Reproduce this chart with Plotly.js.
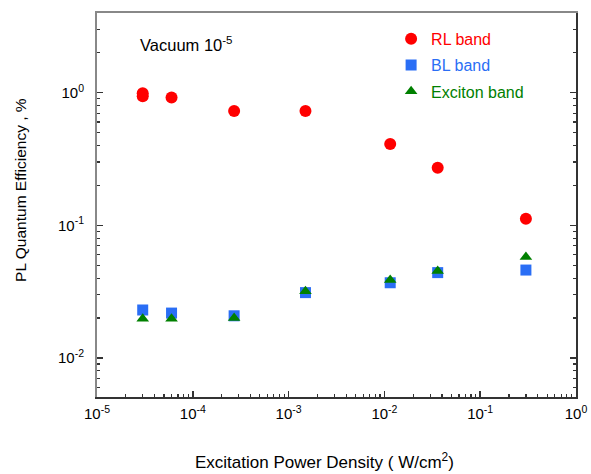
<!DOCTYPE html>
<html><head><meta charset="utf-8">
<script src="https://cdn.plot.ly/plotly-3.0.1.min.js"></script>
<style>html,body{margin:0;padding:0;background:#fff}</style>
</head><body>
<div id="chart" style="width:591px;height:474px"></div>
<script>
const powerDensity = [3e-5, 3e-5, 6e-5, 2.7e-4, 1.5e-3, 1.15e-2, 3.6e-2, 0.3];
const rlBand = [0.99, 0.94, 0.917, 0.728, 0.728, 0.41, 0.272, 0.112];
const xBL = [3e-5, 6e-5, 2.7e-4, 1.5e-3, 1.15e-2, 3.6e-2, 0.3];
const blBand = [0.023, 0.0218, 0.0208, 0.0311, 0.0369, 0.044, 0.046];
const exBand = [0.0198, 0.0198, 0.020, 0.0318, 0.0387, 0.0452, 0.0577];
const seriesNames = ['RL band', 'BL band', 'Exciton band'];
const colors = ['#ff0000', '#2a6ef5', '#008000'];
const xMajorTicks = [1e-5, 1e-4, 1e-3, 1e-2, 1e-1, 1];
const xTickLabels = ['10<sup>-5</sup>', '10<sup>-4</sup>', '10<sup>-3</sup>', '10<sup>-2</sup>', '10<sup>-1</sup>', '10<sup>0</sup>'];
const yMajorTicks = [1e-2, 1e-1, 1];
const yTickLabels = ['10<sup>-2</sup>', '10<sup>-1</sup>', '10<sup>0</sup>'];

function minorTicks(lo, hi) {
  const out = [];
  for (let e = lo; e <= hi; e++) for (let m = 2; m <= 9; m++) out.push(m * Math.pow(10, e));
  return out;
}
const xMinor = minorTicks(-5, -1);
const yMinor = minorTicks(-3, 0).filter(v => v > 0.0051 && v < 3.99);

const font = 'Arial, "Liberation Sans", sans-serif';
const dark = '#333';
const gray = '#888';
const traces = [
  {x: powerDensity, y: rlBand, mode: 'markers', type: 'scatter', legendgroup: 'a',
   name: '<span style="fill:' + colors[0] + '">' + seriesNames[0] + '</span>',
   marker: {symbol: 'circle', size: 12, color: colors[0]}},
  {x: xBL, y: blBand, mode: 'markers', type: 'scatter', legendgroup: 'b',
   name: '<span style="fill:' + colors[1] + '">' + seriesNames[1] + '</span>',
   marker: {symbol: 'square', size: 11, color: colors[1]}},
  {x: xBL, y: exBand, mode: 'markers', type: 'scatter', legendgroup: 'c',
   name: '<span style="fill:' + colors[2] + '">' + seriesNames[2] + '</span>',
   marker: {symbol: 'triangle-up', size: 11, color: colors[2]}},
  {x: [1e-3], y: [1], xaxis: 'x2', yaxis: 'y2', mode: 'markers', showlegend: false, marker: {opacity: 0}, hoverinfo: 'skip'},
  {x: [1e-3], y: [1], xaxis: 'x3', yaxis: 'y3', mode: 'markers', showlegend: false, marker: {opacity: 0}, hoverinfo: 'skip'},
  {x: [1e-3], y: [1], xaxis: 'x3', yaxis: 'y4', mode: 'markers', showlegend: false, marker: {opacity: 0}, hoverinfo: 'skip'}
];
const xr = [-5, 0];
const yr = [-2.294, 0.60];
const base = {type: 'log', showgrid: false, zeroline: false};
const tickFont = {family: font, size: 15, color: '#000'};
const layout = {
  width: 591, height: 474,
  margin: {l: 97, r: 15, t: 13, b: 77},
  paper_bgcolor: '#fff', plot_bgcolor: '#fff',
  font: {family: font, size: 15, color: '#000'},
  showlegend: true,
  legend: {x: 0.614, y: 0.977, xanchor: 'left', yanchor: 'top', bgcolor: 'rgba(0,0,0,0)',
           font: {family: font, size: 16}, tracegroupgap: 2.5, traceorder: 'grouped'},
  xaxis: Object.assign({}, base, {range: xr, tickmode: 'array', tickvals: xMajorTicks, ticktext: xTickLabels,
          showline: true, linecolor: dark, linewidth: 2, ticks: 'inside', ticklen: 6, tickwidth: 1.5, tickcolor: dark,
          tickfont: tickFont, ticklabelstandoff: 2}),
  yaxis: Object.assign({}, base, {range: yr, tickmode: 'array', tickvals: yMajorTicks, ticktext: yTickLabels,
          showline: true, linecolor: gray, linewidth: 2, ticks: 'inside', ticklen: 6, tickwidth: 1.5, tickcolor: dark,
          tickfont: tickFont, ticklabelstandoff: 8}),
  xaxis2: Object.assign({}, base, {range: xr, overlaying: 'x', side: 'top', anchor: 'y2', showline: true, linecolor: gray, linewidth: 2,
           showticklabels: false, ticks: ''}),
  yaxis2: Object.assign({}, base, {range: yr, overlaying: 'y', side: 'right', anchor: 'x2', tickmode: 'array', tickvals: yMajorTicks,
           showline: true, linecolor: dark, linewidth: 2, showticklabels: false, ticks: 'inside', ticklen: 6, tickwidth: 1.5, tickcolor: dark}),
  xaxis3: Object.assign({}, base, {range: xr, overlaying: 'x', side: 'bottom', anchor: 'y3', tickmode: 'array', tickvals: xMinor,
           showline: false, showticklabels: false, ticks: 'inside', ticklen: 3, tickwidth: 1.2, tickcolor: dark}),
  yaxis3: Object.assign({}, base, {range: yr, overlaying: 'y', side: 'left', anchor: 'x3', tickmode: 'array', tickvals: yMinor,
           showline: false, showticklabels: false, ticks: 'inside', ticklen: 3, tickwidth: 1.2, tickcolor: dark}),
  yaxis4: Object.assign({}, base, {range: yr, overlaying: 'y', side: 'right', anchor: 'x3', tickmode: 'array', tickvals: yMinor,
           showline: false, showticklabels: false, ticks: 'inside', ticklen: 3, tickwidth: 1.2, tickcolor: dark}),
  annotations: [
    {xref: 'paper', yref: 'paper', x: 0.085, y: 0.92, xanchor: 'left', yanchor: 'middle',
     showarrow: false, text: 'Vacuum 10<sup>-5</sup>', font: {family: font, size: 16.5, color: '#000'}},
    {xref: 'paper', yref: 'paper', x: -0.161, y: 0.539, xanchor: 'center', yanchor: 'middle', textangle: -90,
     showarrow: false, text: 'PL Quantum Efficiency , %', font: {family: font, size: 15.5, color: '#000'}},
    {xref: 'paper', yref: 'paper', x: 0.475, y: -0.167, xanchor: 'center', yanchor: 'middle',
     showarrow: false, text: 'Excitation Power Density ( W/cm<sup>2</sup>)', font: {family: font, size: 17, color: '#000'}}
  ]
};
Plotly.newPlot('chart', traces, layout, {staticPlot: true, displayModeBar: false});
</script>
</body></html>
